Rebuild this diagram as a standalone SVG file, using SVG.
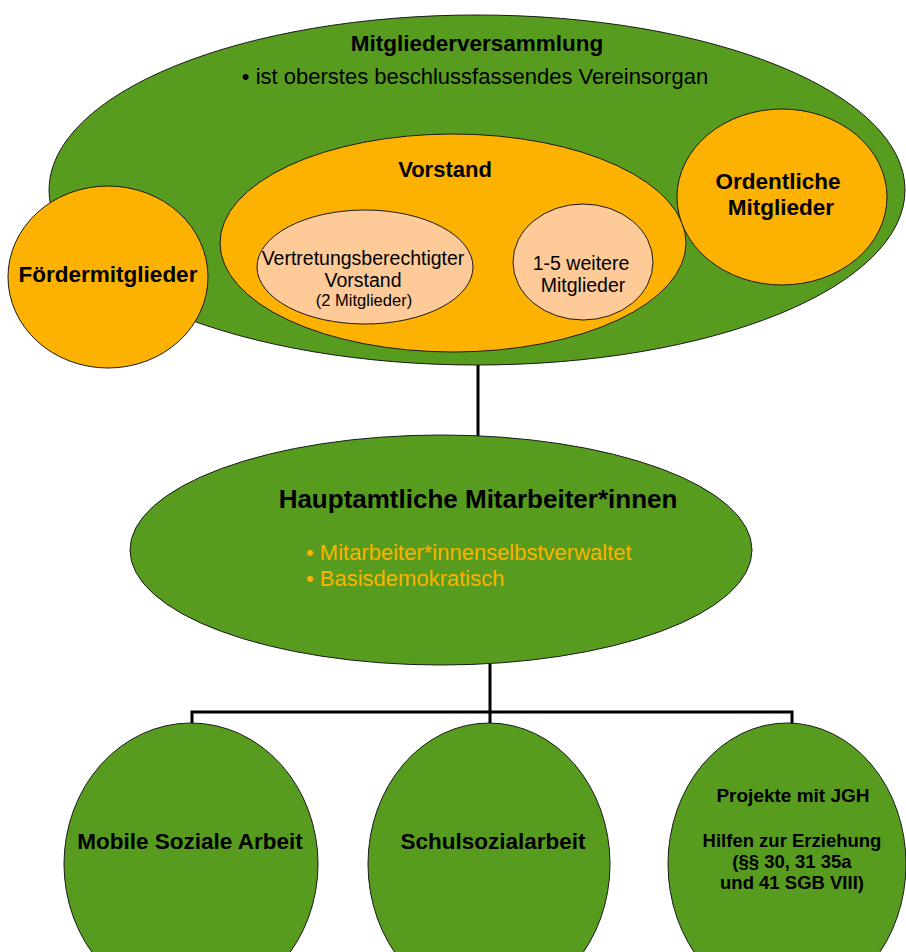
<svg xmlns="http://www.w3.org/2000/svg" width="906" height="952" viewBox="0 0 906 952">
<style>
.g{fill:#579c1e;stroke:#1a1a1a;stroke-width:1}
.o{fill:#fdb100;stroke:#1a1a1a;stroke-width:1}
.p{fill:#fdca98;stroke:#1a1a1a;stroke-width:1}
text{font-family:"Liberation Sans",Arial,Helvetica,sans-serif;fill:#000;text-anchor:middle}
.b{font-weight:bold}
.y{fill:#fdb100;text-anchor:start}
.c{fill:none;stroke:#000;stroke-width:3}
</style>
<rect width="906" height="952" fill="#fff"/>
<g id="connectors">
<line class="c" x1="478" y1="362" x2="478" y2="438"/>
<line class="c" x1="490" y1="664" x2="490" y2="724"/>
<polyline class="c" points="192,724 192,712 792,712 792,724"/>
</g>
<g id="mitgliederversammlung">
<ellipse class="g" cx="477" cy="190" rx="428" ry="175"/>
<text class="b" x="477" y="51" font-size="22.5">Mitgliederversammlung</text>
<text x="475" y="84" font-size="22">• ist oberstes beschlussfassendes Vereinsorgan</text>
</g>
<g id="foerdermitglieder">
<ellipse class="o" cx="108" cy="277" rx="100" ry="91"/>
<text class="b" x="108" y="282" font-size="22.5">Fördermitglieder</text>
</g>
<g id="vorstand">
<ellipse class="o" cx="453" cy="243" rx="233" ry="109"/>
<text class="b" x="445" y="177" font-size="22">Vorstand</text>
</g>
<g id="ordentliche">
<ellipse class="o" cx="782" cy="197" rx="105" ry="88"/>
<text class="b" x="778" y="189" font-size="22.5">Ordentliche</text>
<text class="b" x="781" y="215" font-size="22.5">Mitglieder</text>
</g>
<g id="vertretung">
<ellipse class="p" cx="365" cy="267" rx="108" ry="57"/>
<text x="363" y="265" font-size="19.5">Vertretungsberechtigter</text>
<text x="363" y="287" font-size="19.5">Vorstand</text>
<text x="364" y="306" font-size="16.5">(2 Mitglieder)</text>
</g>
<g id="weitere">
<ellipse class="p" cx="583" cy="262" rx="70" ry="58"/>
<text x="581" y="270" font-size="19.5">1-5 weitere</text>
<text x="583" y="292" font-size="19.5">Mitglieder</text>
</g>
<g id="hauptamtliche">
<ellipse class="g" cx="441" cy="550" rx="311" ry="115"/>
<text class="b" x="478" y="508" font-size="26">Hauptamtliche Mitarbeiter*innen</text>
<text class="y" x="306" y="560" font-size="22">• Mitarbeiter*innenselbstverwaltet</text>
<text class="y" x="306" y="586" font-size="22">• Basisdemokratisch</text>
</g>
<g id="mobile">
<ellipse class="g" cx="191" cy="864" rx="127" ry="141"/>
<text class="b" x="190" y="849" font-size="22.5">Mobile Soziale Arbeit</text>
</g>
<g id="schul">
<ellipse class="g" cx="489" cy="864" rx="121" ry="141"/>
<text class="b" x="493" y="849" font-size="22.5">Schulsozialarbeit</text>
</g>
<g id="projekte">
<ellipse class="g" cx="787" cy="864" rx="119" ry="141"/>
<text class="b" x="793" y="802" font-size="19">Projekte mit JGH</text>
<text class="b" x="792" y="847" font-size="18.5">Hilfen zur Erziehung</text>
<text class="b" x="792" y="868" font-size="18.5">(§§ 30, 31 35a</text>
<text class="b" x="792" y="889" font-size="18.5">und 41 SGB VIII)</text>
</g>
</svg>
